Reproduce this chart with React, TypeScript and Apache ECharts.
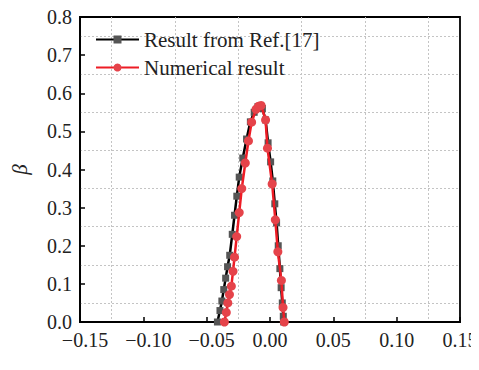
import React, { useEffect, useRef } from "react";
import * as echarts from "echarts";

const xTicks = { min: -0.15, max: 0.15, interval: 0.05 };
const yTicks = { min: 0, max: 0.8, interval: 0.1 };

const refSeriesName = "Result from Ref.[17]";
const numSeriesName = "Numerical result";

const refData: [number, number][] = [
  [-0.0415, 0.0],
  [-0.0395, 0.03],
  [-0.038, 0.055],
  [-0.0365, 0.085],
  [-0.035, 0.115],
  [-0.0335, 0.145],
  [-0.0318, 0.175],
  [-0.0298, 0.23],
  [-0.028, 0.28],
  [-0.0262, 0.33],
  [-0.0243, 0.38],
  [-0.0215, 0.43],
  [-0.0185, 0.48],
  [-0.0155, 0.525],
  [-0.0125, 0.55],
  [-0.0095, 0.565],
  [-0.006, 0.56],
  [-0.0035, 0.53],
  [-0.0015, 0.47],
  [0.0005, 0.42],
  [0.0022, 0.37],
  [0.0038, 0.31],
  [0.0052, 0.26],
  [0.0065, 0.2],
  [0.0078, 0.14],
  [0.0088, 0.09],
  [0.0097, 0.05],
  [0.0105, 0.015],
  [0.0108, 0.0],
];

const numData: [number, number][] = [
  [-0.036, 0.0],
  [-0.0345, 0.025],
  [-0.0333, 0.05],
  [-0.032, 0.072],
  [-0.0305, 0.094],
  [-0.0292, 0.133],
  [-0.028, 0.17],
  [-0.0263, 0.224],
  [-0.0243, 0.287],
  [-0.0223, 0.35],
  [-0.0195, 0.417],
  [-0.017, 0.475],
  [-0.0145, 0.524],
  [-0.011, 0.558],
  [-0.009, 0.566],
  [-0.007, 0.568],
  [-0.0035, 0.53],
  [-0.002, 0.456],
  [0.0017, 0.362],
  [0.0042, 0.268],
  [0.0062, 0.184],
  [0.009, 0.109],
  [0.0103, 0.038],
  [0.0113, 0.0],
];

const FONT = "'Liberation Serif', 'Times New Roman', serif";
const FS = 21;
const TFS = 20;

export default function App() {
  const ref = useRef<HTMLDivElement>(null);
  useEffect(() => {
    if (!ref.current) return;
    const chart = echarts.init(ref.current, undefined, { renderer: "svg" });
    chart.setOption({
      animation: false,
      textStyle: { fontFamily: FONT },
      grid: {
        left: 80,
        right: 19,
        top: 17,
        bottom: 48,
        containLabel: false,
        outerBoundsMode: "none",
        show: true,
        borderColor: "#000",
        borderWidth: 1.8,
        backgroundColor: "transparent",
      },
      legend: {
        orient: "vertical",
        left: 90,
        top: 24,
        itemWidth: 43,
        itemHeight: 10,
        itemGap: 7,
        textStyle: { fontFamily: FONT, fontSize: FS, color: "#222", padding: 0 },
        data: [refSeriesName, numSeriesName],
      },
      xAxis: {
        type: "value",
        min: xTicks.min,
        max: xTicks.max,
        interval: xTicks.interval,
        name: "{i|Y} / m",
        nameLocation: "middle",
        nameGap: 38,
        nameMoveOverlap: false,
        nameTextStyle: {
          fontFamily: FONT,
          fontSize: TFS,
          lineHeight: 18,
          color: "#222",
          rich: { i: { fontFamily: FONT, fontSize: TFS, lineHeight: 18, fontStyle: "italic", color: "#222" } },
        },
        axisLine: { show: true, onZero: false, lineStyle: { color: "#000", width: 1.8 } },
        axisTick: { show: true, inside: true, length: 5, lineStyle: { color: "#000", width: 1.5 } },
        axisLabel: {
          margin: 10,
          fontFamily: FONT,
          fontSize: TFS,
          lineHeight: 16,
          color: "#222",
          showMinLabel: true,
          showMaxLabel: true,
          hideOverlap: false,
          formatter: (v: number) =>
            v < -1e-9 ? "{n|\u2212" + Math.abs(v).toFixed(2) + "}" : "{p|" + Math.abs(v).toFixed(2) + "}",
          rich: {
            n: { fontFamily: FONT, fontSize: TFS, lineHeight: 16, color: "#222", padding: [0, 0, 0, 10] },
            p: { fontFamily: FONT, fontSize: TFS, lineHeight: 16, color: "#222" },
          },
        },
        splitLine: { show: false },
        minorTick: { show: false, splitNumber: 2 },
        minorSplitLine: { show: true, lineStyle: { color: "#c4c4c4", type: [2, 2], width: 1 } },
      },
      yAxis: {
        type: "value",
        min: yTicks.min,
        max: yTicks.max,
        interval: yTicks.interval,
        name: "β",
        nameLocation: "middle",
        nameGap: 50,
        nameMoveOverlap: false,
        nameRotate: 90,
        nameTextStyle: { fontFamily: FONT, fontSize: FS, fontStyle: "italic", color: "#222" },
        axisLine: { show: true, onZero: false, lineStyle: { color: "#000", width: 1.8 } },
        axisTick: { show: true, inside: true, length: 5, lineStyle: { color: "#000", width: 1.5 } },
        axisLabel: {
          margin: 8,
          fontFamily: FONT,
          fontSize: TFS,
          lineHeight: 16,
          color: "#222",
          showMinLabel: true,
          showMaxLabel: true,
          formatter: (v: number) => v.toFixed(1),
        },
        splitLine: { show: false },
        minorTick: { show: false, splitNumber: 2 },
        minorSplitLine: { show: true, lineStyle: { color: "#c4c4c4", type: [2, 2], width: 1 } },
      },
      series: [
        {
          name: refSeriesName,
          type: "line",
          data: refData,
          symbol: "rect",
          symbolSize: 7,
          itemStyle: { color: "#555" },
          lineStyle: { color: "#000", width: 2.5 },
          z: 2,
        },
        {
          name: numSeriesName,
          type: "line",
          data: numData,
          symbol: "circle",
          symbolSize: 9,
          itemStyle: { color: "#e5434a" },
          lineStyle: { color: "#ee1c25", width: 2.5 },
          z: 3,
        },
      ],
    });
    return () => chart.dispose();
  }, []);
  return <div ref={ref} style={{ width: 479, height: 370, margin: -8 }} />;
}
